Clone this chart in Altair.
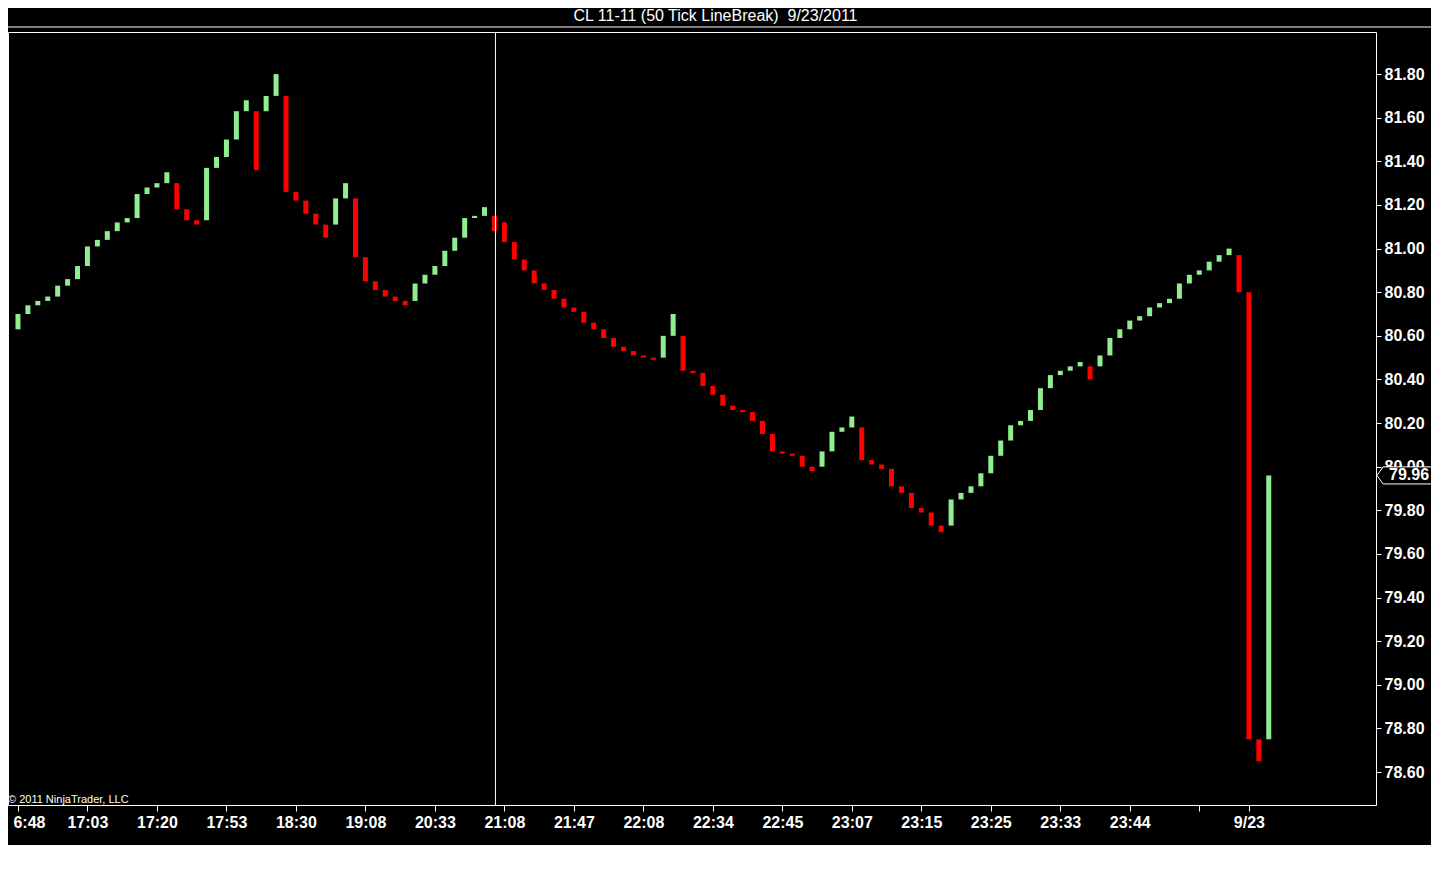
import altair as alt
import pandas as pd

# ---- data ----
bar_open = [
    80.63, 80.70, 80.74, 80.76, 80.78, 80.83, 80.86, 80.92, 81.01, 81.04,
    81.08, 81.12, 81.14, 81.25, 81.28, 81.30, 81.30, 81.18, 81.13, 81.13,
    81.37, 81.42, 81.50, 81.63, 81.63, 81.63, 81.70, 81.70, 81.26, 81.22,
    81.16, 81.11, 81.11, 81.23, 81.23, 80.96, 80.85, 80.81, 80.78, 80.76,
    80.76, 80.84, 80.88, 80.92, 80.99, 81.05, 81.14, 81.15, 81.15, 81.12,
    81.03, 80.95, 80.90, 80.84, 80.81, 80.77, 80.73, 80.71, 80.66, 80.63,
    80.59, 80.55, 80.53, 80.51, 80.50, 80.50, 80.60, 80.60, 80.44, 80.43,
    80.37, 80.33, 80.28, 80.26, 80.25, 80.21, 80.15, 80.07, 80.06, 80.05,
    80.00, 80.00, 80.07, 80.16, 80.18, 80.18, 80.03, 80.01, 79.99, 79.91,
    79.88, 79.81, 79.79, 79.73, 79.73, 79.85, 79.88, 79.91, 79.97, 80.05,
    80.12, 80.19, 80.21, 80.26, 80.36, 80.42, 80.44, 80.46, 80.46, 80.46,
    80.51, 80.59, 80.63, 80.67, 80.69, 80.73, 80.75, 80.77, 80.84, 80.88,
    80.90, 80.94, 80.97, 80.97, 80.80, 78.75, 78.75,
]
bar_close = [
    80.70, 80.74, 80.76, 80.78, 80.83, 80.86, 80.92, 81.01, 81.04, 81.08,
    81.12, 81.14, 81.25, 81.28, 81.30, 81.35, 81.18, 81.13, 81.11, 81.37,
    81.42, 81.50, 81.63, 81.68, 81.36, 81.70, 81.80, 81.26, 81.22, 81.16,
    81.11, 81.05, 81.23, 81.30, 80.96, 80.85, 80.81, 80.78, 80.76, 80.74,
    80.84, 80.88, 80.92, 80.99, 81.05, 81.14, 81.15, 81.19, 81.08, 81.03,
    80.95, 80.90, 80.84, 80.81, 80.77, 80.73, 80.71, 80.66, 80.63, 80.59,
    80.55, 80.53, 80.51, 80.50, 80.49, 80.60, 80.70, 80.44, 80.43, 80.37,
    80.33, 80.28, 80.26, 80.25, 80.21, 80.15, 80.07, 80.06, 80.05, 80.00,
    79.98, 80.07, 80.16, 80.18, 80.23, 80.03, 80.01, 79.99, 79.91, 79.88,
    79.81, 79.79, 79.73, 79.70, 79.85, 79.88, 79.91, 79.97, 80.05, 80.12,
    80.19, 80.21, 80.26, 80.36, 80.42, 80.44, 80.46, 80.48, 80.40, 80.51,
    80.59, 80.63, 80.67, 80.69, 80.73, 80.75, 80.77, 80.84, 80.88, 80.90,
    80.94, 80.97, 81.00, 80.80, 78.75, 78.65, 79.96,
]
time_tick_pos = [0, 7, 14, 21, 28, 35, 42, 49, 56, 63, 70, 77, 84, 91, 98,
                 105, 112, 119, 124]
time_tick_labels = ["6:48", "17:03", "17:20", "17:53", "18:30", "19:08",
                    "20:33", "21:08", "21:47", "22:08", "22:34", "22:45",
                    "23:07", "23:15", "23:25", "23:33", "23:44", "", "9/23"]
price_ticks = [78.6, 78.8, 79.0, 79.2, 79.4, 79.6, 79.8, 80.0, 80.2, 80.4,
               80.6, 80.8, 81.0, 81.2, 81.4, 81.6, 81.8]
last_price = [79.96]
session_line = [48.1]
title_text = "CL 11-11 (50 Tick LineBreak)\u00a0 9/23/2011"
copyright_text = "\u00a9 2011 NinjaTrader, LLC"

W, H = 1368, 773
FONT = "Liberation Sans"
UP, DOWN = "#90EE90", "#FF0000"

bars = pd.DataFrame({"bar": list(range(len(bar_open))),
                     "open": bar_open, "close": bar_close})
bars["dir"] = ["up" if c >= o else "down" for o, c in zip(bar_open, bar_close)]

x_scale = alt.Scale(domain=[-0.5, 136.3], nice=False, zero=False)
y_scale = alt.Scale(domain=[78.449, 81.993], nice=False, zero=False)

label_expr = "{}[indexof({}, datum.value)]".format(
    "[" + ",".join('"%s"' % s for s in time_tick_labels) + "]",
    "[" + ",".join(str(v) for v in time_tick_pos) + "]",
)

x_axis = alt.Axis(
    values=time_tick_pos, labelExpr=label_expr, title=None, grid=False,
    domain=False, ticks=True, tickColor="white", tickSize=6,
    labelColor="white", labelFont=FONT, labelFontSize=16,
    labelFontWeight="bold", labelPadding=3, labelOverlap=False,
    labelAlign={"condition": {"test": "datum.value == 0", "value": "left"},
                "value": "center"},
    labelOffset={"condition": {"test": "datum.value == 0", "value": -5},
                 "value": 0},
)
y_axis = alt.Axis(
    orient="right", values=price_ticks, format=".2f", title=None,
    grid=False, domain=False, tickColor="white", tickSize=5,
    labelColor="white", labelFont=FONT, labelFontSize=16,
    labelFontWeight="bold", labelPadding=3, labelOverlap=False, zindex=0,
)

bar_layer = alt.Chart(bars).mark_bar(size=5, orient="vertical").encode(
    x=alt.X("bar:Q", scale=x_scale, axis=x_axis),
    y=alt.Y("open:Q", scale=y_scale, axis=y_axis),
    y2="close:Q",
    color=alt.Color("dir:N", scale=alt.Scale(domain=["up", "down"],
                                             range=[UP, DOWN]), legend=None),
)

vline = alt.Chart(pd.DataFrame({"pos": session_line})).mark_rule(
    color="white", strokeWidth=1
).encode(x=alt.X("pos:Q", scale=x_scale, axis=x_axis))

one = pd.DataFrame({"k": [0]})
top_line = alt.Chart(one).mark_rule(color="white", strokeWidth=1).encode(
    x=alt.value(0), x2=alt.value(W + 55), y=alt.value(-5)
)

title = alt.Chart(one).mark_text(
    text=title_text, color="white", font=FONT, fontSize=16,
    align="center", baseline="middle"
).encode(x=alt.value(715.5 - 8), y=alt.value(-16))

copyright = alt.Chart(one).mark_text(
    text=copyright_text, color="white", font=FONT, fontSize=11,
    align="left", baseline="middle"
).encode(x=alt.value(0), y=alt.value(H - 5))

price_df = pd.DataFrame({"price": last_price})
marker_path = "M -1 0 L -0.78 -0.31 L 1 -0.31 L 1 0.31 L -0.78 0.31 Z"
marker = alt.Chart(price_df).mark_point(
    shape=marker_path, size=3025, filled=True, fill="black", stroke="white",
    strokeWidth=1, opacity=1, fillOpacity=1, strokeOpacity=1
).encode(x=alt.value(W + 28.5), y=alt.Y("price:Q", scale=y_scale, axis=y_axis))

marker_text = alt.Chart(price_df).mark_text(
    color="white", font=FONT, fontSize=16, fontWeight="bold",
    align="left", baseline="middle"
).encode(
    x=alt.value(W + 13),
    y=alt.Y("price:Q", scale=y_scale, axis=y_axis),
    text=alt.Text("price:Q", format=".2f"),
)

chart = alt.layer(
    bar_layer, vline, top_line, title, copyright, marker, marker_text
).properties(
    width=W, height=H,
    autosize=alt.AutoSizeParams(type="none"),
    padding={"left": 0, "top": 24, "right": 55, "bottom": 40},
    background="black",
).configure_view(
    stroke="white", strokeWidth=1, fill="black"
)

chart.save("out.html", embed_options={"renderer": "svg", "actions": False})
